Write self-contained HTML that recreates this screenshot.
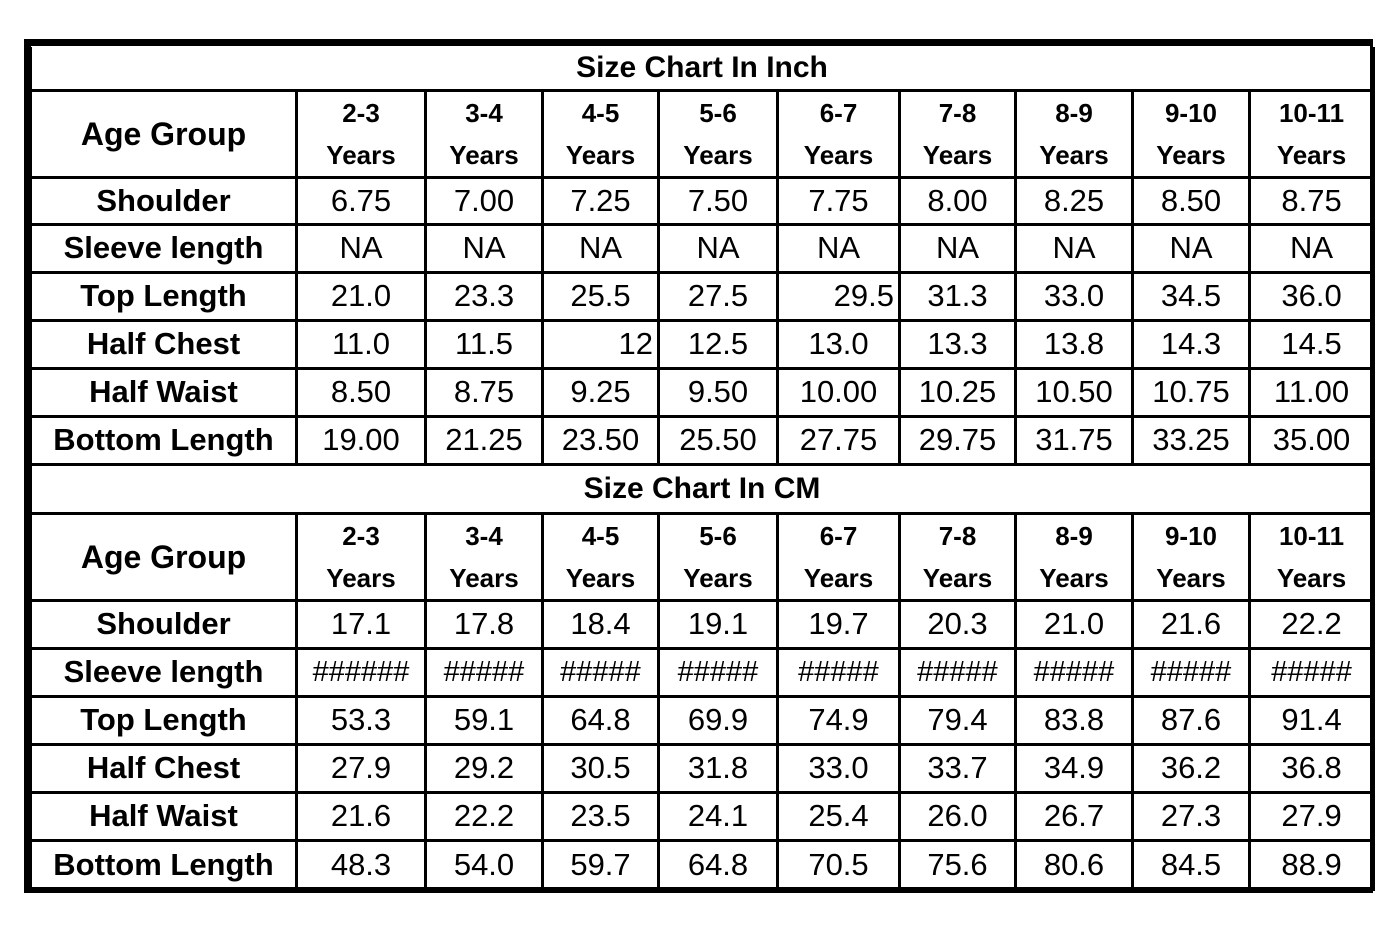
<!DOCTYPE html>
<html><head><meta charset="utf-8"><style>
html,body{margin:0;padding:0;background:#fff;width:1400px;height:932px;overflow:hidden}
.box{position:absolute;left:24px;top:39px;width:1339px;height:841px;border:7px solid #000;border-right-width:3px;border-bottom-width:6px}
table{border-collapse:collapse;table-layout:fixed;width:1343px;position:absolute;left:-2px;top:1px;font-family:"Liberation Sans",sans-serif;color:#000}
td{border:3px solid #000;text-align:center;padding:0;font-size:31px;overflow:hidden;white-space:nowrap}
td.l{font-weight:bold;font-size:31px}
.t td{font-weight:bold;font-size:30px;border-top:none}
.h td{font-weight:bold;font-size:26px;line-height:42px}
.h td.l{font-size:32px}
.x{font-size:29px}
</style></head><body>
<div class="box"><table>
<colgroup><col style="width:266px"><col style="width:129px"><col style="width:117px"><col style="width:116px"><col style="width:119px"><col style="width:122px"><col style="width:116px"><col style="width:117px"><col style="width:117px"><col style="width:124px"></colgroup>
<tr class="t" style="height:43px"><td colspan="10">Size Chart In Inch</td></tr>
<tr class="h" style="height:86px"><td class="l">Age Group</td><td>2-3<br>Years</td><td>3-4<br>Years</td><td>4-5<br>Years</td><td>5-6<br>Years</td><td>6-7<br>Years</td><td>7-8<br>Years</td><td>8-9<br>Years</td><td>9-10<br>Years</td><td>10-11<br>Years</td></tr>
<tr style="height:47px"><td class="l">Shoulder</td><td>6.75</td><td>7.00</td><td>7.25</td><td>7.50</td><td>7.75</td><td>8.00</td><td>8.25</td><td>8.50</td><td>8.75</td></tr>
<tr style="height:48px"><td class="l">Sleeve length</td><td>NA</td><td>NA</td><td>NA</td><td>NA</td><td>NA</td><td>NA</td><td>NA</td><td>NA</td><td>NA</td></tr>
<tr style="height:48px"><td class="l">Top Length</td><td>21.0</td><td>23.3</td><td>25.5</td><td>27.5</td><td style="text-align:right;padding-right:4px">29.5</td><td>31.3</td><td>33.0</td><td>34.5</td><td>36.0</td></tr>
<tr style="height:48px"><td class="l">Half Chest</td><td>11.0</td><td>11.5</td><td style="text-align:right;padding-right:4px">12</td><td>12.5</td><td>13.0</td><td>13.3</td><td>13.8</td><td>14.3</td><td>14.5</td></tr>
<tr style="height:48px"><td class="l">Half Waist</td><td>8.50</td><td>8.75</td><td>9.25</td><td>9.50</td><td>10.00</td><td>10.25</td><td>10.50</td><td>10.75</td><td>11.00</td></tr>
<tr style="height:48px"><td class="l">Bottom Length</td><td>19.00</td><td>21.25</td><td>23.50</td><td>25.50</td><td>27.75</td><td>29.75</td><td>31.75</td><td>33.25</td><td>35.00</td></tr>
<tr class="t" style="height:49px"><td colspan="10" style="border-top:3px solid #000">Size Chart In CM</td></tr>
<tr class="h" style="height:85px"><td class="l">Age Group</td><td>2-3<br>Years</td><td>3-4<br>Years</td><td>4-5<br>Years</td><td>5-6<br>Years</td><td>6-7<br>Years</td><td>7-8<br>Years</td><td>8-9<br>Years</td><td>9-10<br>Years</td><td>10-11<br>Years</td></tr>
<tr style="height:48px"><td class="l">Shoulder</td><td>17.1</td><td>17.8</td><td>18.4</td><td>19.1</td><td>19.7</td><td>20.3</td><td>21.0</td><td>21.6</td><td>22.2</td></tr>
<tr style="height:48px"><td class="l">Sleeve length</td><td class="x">######</td><td class="x">#####</td><td class="x">#####</td><td class="x">#####</td><td class="x">#####</td><td class="x">#####</td><td class="x">#####</td><td class="x">#####</td><td class="x">#####</td></tr>
<tr style="height:48px"><td class="l">Top Length</td><td>53.3</td><td>59.1</td><td>64.8</td><td>69.9</td><td>74.9</td><td>79.4</td><td>83.8</td><td>87.6</td><td>91.4</td></tr>
<tr style="height:48px"><td class="l">Half Chest</td><td>27.9</td><td>29.2</td><td>30.5</td><td>31.8</td><td>33.0</td><td>33.7</td><td>34.9</td><td>36.2</td><td>36.8</td></tr>
<tr style="height:48px"><td class="l">Half Waist</td><td>21.6</td><td>22.2</td><td>23.5</td><td>24.1</td><td>25.4</td><td>26.0</td><td>26.7</td><td>27.3</td><td>27.9</td></tr>
<tr style="height:49px"><td class="l">Bottom Length</td><td>48.3</td><td>54.0</td><td>59.7</td><td>64.8</td><td>70.5</td><td>75.6</td><td>80.6</td><td>84.5</td><td>88.9</td></tr>
</table></div>
</body></html>
